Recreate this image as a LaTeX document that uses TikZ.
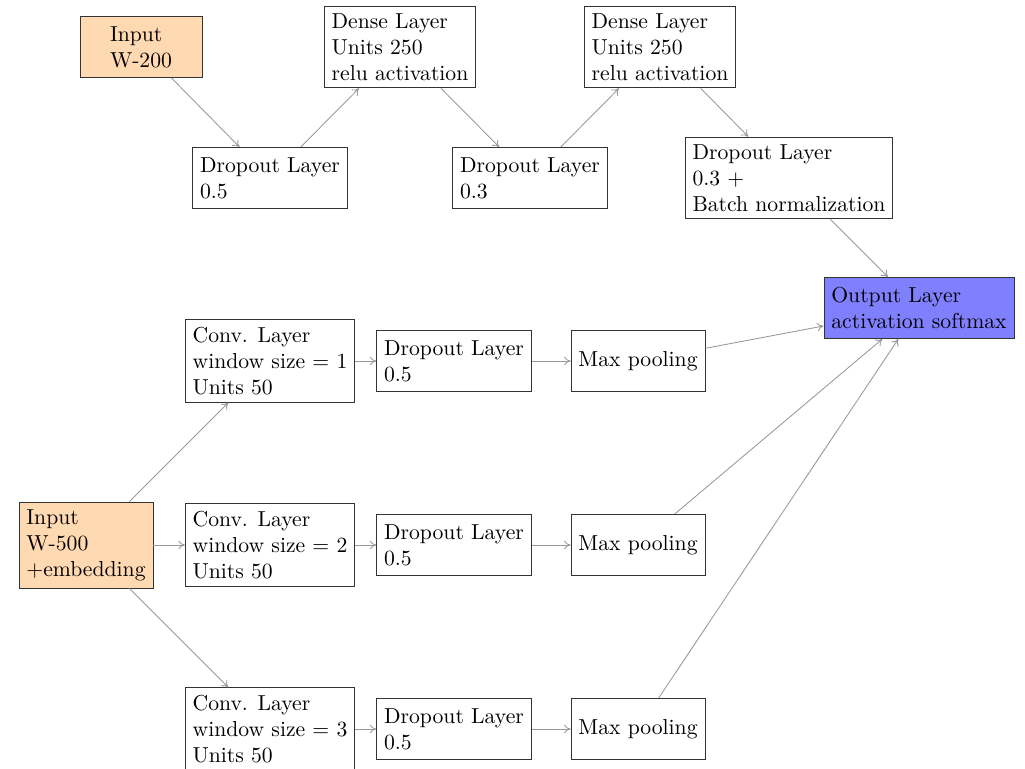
\documentclass[tikz,border=0pt]{standalone}
\usetikzlibrary{arrows.meta}
\begin{document}
\begin{tikzpicture}[x=0.4615pt,y=-0.4615pt,
  box/.style={draw=black!80,fill=white,align=left,inner sep=3.4pt,font=\normalsize},
  twoline/.style={minimum height=28.2pt},
  inbox/.style={box,fill=orange!30},
  outbox/.style={box,fill=blue!50},
  conn/.style={draw=black!40,-{To[length=3pt,width=4pt]},line width=0.4pt}]
\useasboundingbox (0,0) rectangle (1025,768);
\node[inbox,minimum width=56.3pt,twoline] (in200) at (141,47) {Input\\W-200};
\node[box,twoline] (d1) at (270,178) {Dropout Layer\\0.5};
\node[box] (dense1) at (400,47) {Dense Layer\\Units 250\\relu activation};
\node[box,twoline] (d2) at (530,178) {Dropout Layer\\0.3};
\node[box] (dense2) at (660,47) {Dense Layer\\Units 250\\relu activation};
\node[box] (d3) at (789,178) {Dropout Layer\\0.3 +\\Batch normalization};
\node[outbox,twoline] (out) at (919,308) {Output Layer\\activation softmax};
\node[box] (c1) at (270,361) {Conv. Layer\\window size = 1\\Units 50};
\node[box,twoline] (dc1) at (454,361) {Dropout Layer\\0.5};
\node[box,twoline] (mp1) at (638,361) {Max pooling};
\node[inbox,minimum height=39pt] (in500) at (86,545) {Input\\W-500\\+embedding};
\node[box] (c2) at (270,545) {Conv. Layer\\window size = 2\\Units 50};
\node[box,twoline] (dc2) at (454,545) {Dropout Layer\\0.5};
\node[box,twoline] (mp2) at (638,545) {Max pooling};
\node[box] (c3) at (270,729) {Conv. Layer\\window size = 3\\Units 50};
\node[box,twoline] (dc3) at (454,729) {Dropout Layer\\0.5};
\node[box,twoline] (mp3) at (638,729) {Max pooling};
\draw[conn] (in200) -- (d1);
\draw[conn] (d1) -- (dense1);
\draw[conn] (dense1) -- (d2);
\draw[conn] (d2) -- (dense2);
\draw[conn] (dense2) -- (d3);
\draw[conn] (d3) -- (out);
\draw[conn] (in500) -- (c1);
\draw[conn] (in500) -- (c2);
\draw[conn] (in500) -- (c3);
\draw[conn] (c1) -- (dc1);
\draw[conn] (dc1) -- (mp1);
\draw[conn] (c2) -- (dc2);
\draw[conn] (dc2) -- (mp2);
\draw[conn] (c3) -- (dc3);
\draw[conn] (dc3) -- (mp3);
\draw[conn] (mp1) -- (out);
\draw[conn] (mp2) -- (out);
\draw[conn] (mp3) -- (out);
\end{tikzpicture}
\end{document}
